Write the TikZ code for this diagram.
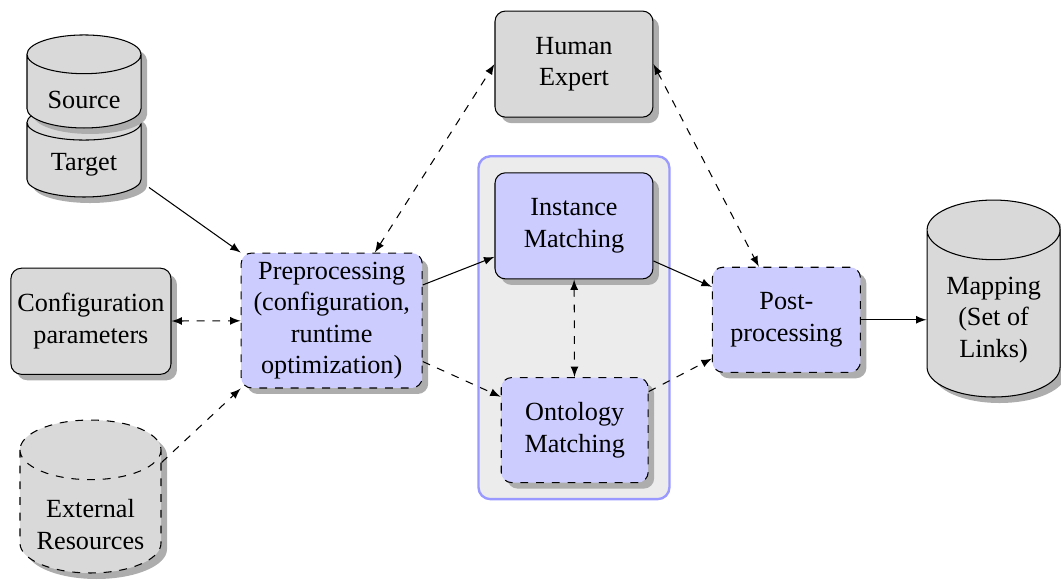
\documentclass[tikz,border=0pt]{standalone}
\usepackage{fontspec}
\setmainfont{Liberation Serif}
\usetikzlibrary{shadows,fit,backgrounds}

\tikzset{
  >=latex,
  box/.style={rectangle, rounded corners=4pt, draw, fill=black!15, align=center,
    inner sep=2pt, drop shadow={fill=black!32, opacity=1}},
  proc/.style={box, fill=blue!20},
  drum/.style={draw, fill=black!15, drop shadow={fill=black!32, opacity=1}},
  drumtext/.style={align=center, inner sep=2pt},
}

% cylinder: [style]{centre x}{centre y}{half width}{half height}{cap radius}
\newcommand{\drum}[6][]{%
  \draw[drum, #1] ({#2-#4},{#3+#5-#6}) -- ({#2-#4},{#3-#5+#6})
    arc[start angle=180, end angle=360, x radius=#4, y radius=#6]
    -- ({#2+#4},{#3+#5-#6})
    arc[start angle=0, end angle=180, x radius=#4, y radius=#6] -- cycle
    ({#2-#4},{#3+#5-#6}) arc[start angle=180, end angle=360, x radius=#4, y radius=#6];
}

\begin{document}
\begin{tikzpicture}

	\useasboundingbox (0,0) rectangle (14.234,-7.781);

	% Inputs
	\drum{1.127}{-2.026}{0.765}{0.617}{0.235}
	\drum{1.127}{-1.093}{0.765}{0.624}{0.26}
	\node[drumtext, minimum width=1.53cm] (source) at (1.127,-1.342) {Source};
	\node[drumtext, minimum width=1.53cm] (target) at (1.127,-2.214) {Target};
	\node[box, minimum width=61.1pt, minimum height=40.5pt] (config) at (1.22,-4.31) {Configuration\\parameters};
	\drum[dashed]{1.214}{-6.661}{0.946}{1.026}{0.40}
	\node[drumtext, minimum width=1.892cm, minimum height=1.65cm] (ext) at (1.214,-7.037) {External\\Resources};

	% Processing
	\node[proc, dashed, minimum width=69.1pt, minimum height=51.5pt] (pre) at (4.45,-4.30) {Preprocessing\\(configuration,\\runtime\\optimization)};
	\node[box, minimum width=60.3pt, minimum height=40.5pt] (human) at (7.70,-0.86) {Human\\Expert};
	\node[proc, minimum width=60.3pt, minimum height=40.5pt] (inst) at (7.70,-3.03) {Instance\\Matching};
	\node[proc, dashed, minimum width=56.1pt, minimum height=40.1pt] (onto) at (7.71,-5.77) {Ontology\\Matching};
	\node[proc, dashed, minimum width=56.5pt, minimum height=40.1pt] (post) at (10.55,-4.29) {Post-\\processing};

	% Output
	\drum{13.329}{-4.005}{0.892}{1.321}{0.40}
	\node[drumtext, minimum width=1.784cm] (map) at (13.329,-4.293) {Mapping\\(Set of\\Links)};

	% Matching group
	\begin{scope}[on background layer]
		\node[fit=(inst)(onto), inner sep=6.1pt, rounded corners=4.5pt, draw=blue!40, line width=0.9pt, fill=gray!15] (match) {};
	\end{scope}

	% Connections
	\draw[->, shorten <=3.5pt] (target.south east) -- (pre.north west);
	\draw[<->, dashed] (config) -- (pre);
	\draw[->, dashed] (ext.north east) -- (pre.south west);
	\draw[<->, dashed] (pre) -- (human.west);
	\draw[->] (pre) -- (inst);
	\draw[->, dashed] (pre) -- (onto);
	\draw[<->, dashed] (inst) -- (onto);
	\draw[->] (inst) -- (post);
	\draw[->, dashed] (onto) -- (post);
	\draw[<->, dashed] (human.east) -- (post);
	\draw[->] (post.east) -- (post.east -| map.west);

\end{tikzpicture}
\end{document}
